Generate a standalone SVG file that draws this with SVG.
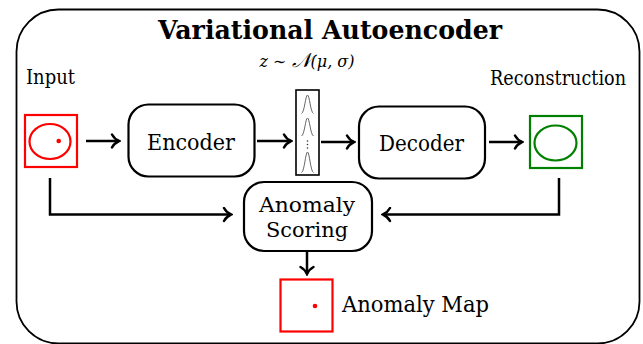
<svg xmlns="http://www.w3.org/2000/svg" width="643" height="344" viewBox="0 0 643 344" font-family="DejaVu Serif, Liberation Serif, serif">
<defs>
<style>
.box{fill:#fff;stroke:#000;stroke-width:2.2}
.conn{fill:none;stroke:#000;stroke-width:2.5}
.gauss{fill:none;stroke:#555;stroke-width:0.9}
</style>
<marker id="arr" markerUnits="userSpaceOnUse" orient="auto" viewBox="-9 -8 11 16" refX="0" refY="0" markerWidth="11" markerHeight="16">
<path d="M -7,-6.5 C -5,-2.8 -2,-0.9 0,0 C -2,0.9 -5,2.8 -7,6.5" fill="none" stroke="#000" stroke-width="2.5" stroke-linecap="round"/>
</marker>
</defs>
<rect x="16.5" y="9.5" width="623" height="334" rx="42" ry="42" fill="none" stroke="#000" stroke-width="1.8"/>
<text x="330" y="39" font-size="26" font-weight="bold" text-anchor="middle" textLength="344" lengthAdjust="spacingAndGlyphs">Variational Autoencoder</text>
<text x="307" y="67" font-size="16" text-anchor="middle" font-style="italic">z ∼ <tspan font-size="20">𝒩</tspan>(μ, σ)</text>
<text x="26" y="84" font-size="20" textLength="49" lengthAdjust="spacingAndGlyphs">Input</text>
<text x="490" y="85" font-size="20" textLength="136" lengthAdjust="spacingAndGlyphs">Reconstruction</text>

<g id="input">
<rect x="25" y="115" width="52" height="52" fill="#fff" stroke="#f00" stroke-width="2.2"/>
<ellipse cx="50" cy="141.5" rx="20.5" ry="17.5" fill="none" stroke="#f00" stroke-width="2.2"/>
<circle cx="58.7" cy="141" r="2.3" fill="#f00"/>
</g>
<g id="encoder">
<rect class="box" x="128.5" y="104.5" width="126" height="72" rx="20"/>
<text x="191" y="150" font-size="22" text-anchor="middle" textLength="88" lengthAdjust="spacingAndGlyphs">Encoder</text>
</g>
<g id="latent">
<rect x="296" y="90" width="23" height="85" fill="#fff" stroke="#000" stroke-width="1.6"/>
<path class="gauss" d="M 301.5,113.5 C 304.5,112.5 305.5,95 307.5,95 C 309.5,95 310.5,112.5 313.5,113.5"/>
<path class="gauss" d="M 301.5,136 C 304.5,135 305.5,118 307.5,118 C 309.5,118 310.5,135 313.5,136"/>
<circle cx="307.5" cy="141" r="0.8" fill="#333"/>
<circle cx="307.5" cy="144.5" r="0.8" fill="#333"/>
<circle cx="307.5" cy="148" r="0.8" fill="#333"/>
<path class="gauss" d="M 301.5,172.5 C 304.5,171.5 305.5,152 307.5,152 C 309.5,152 310.5,171.5 313.5,172.5"/>
</g>
<g id="decoder">
<rect class="box" x="359" y="106.5" width="126" height="72" rx="20"/>
<text x="421.5" y="151" font-size="22" text-anchor="middle" textLength="85" lengthAdjust="spacingAndGlyphs">Decoder</text>
</g>
<g id="reconstruction">
<rect x="530" y="116" width="52" height="52" fill="#fff" stroke="#008000" stroke-width="2.2"/>
<ellipse cx="555.5" cy="143" rx="21" ry="17.5" fill="none" stroke="#008000" stroke-width="2.2"/>
</g>
<g id="scoring">
<rect class="box" x="244" y="182" width="128" height="69" rx="20"/>
<text x="307" y="212" font-size="21" text-anchor="middle" textLength="96" lengthAdjust="spacingAndGlyphs">Anomaly</text>
<text x="307" y="237" font-size="21" text-anchor="middle" textLength="82" lengthAdjust="spacingAndGlyphs">Scoring</text>
</g>
<g id="anomaly-map">
<rect x="280.5" y="279.5" width="52" height="52" fill="#fff" stroke="#f00" stroke-width="2.2"/>
<circle cx="315" cy="306" r="2.3" fill="#f00"/>
<text x="342" y="312" font-size="22" textLength="147" lengthAdjust="spacingAndGlyphs">Anomaly Map</text>
</g>
<g id="connectors">
<path class="conn" d="M 86,141 H 119" marker-end="url(#arr)"/>
<path class="conn" d="M 257,141 H 291" marker-end="url(#arr)"/>
<path class="conn" d="M 321,142 H 354" marker-end="url(#arr)"/>
<path class="conn" d="M 489,142 H 522" marker-end="url(#arr)"/>
<path class="conn" d="M 50,178 V 214.5 H 231" marker-end="url(#arr)"/>
<path class="conn" d="M 559,178 V 214.5 H 383" marker-end="url(#arr)"/>
<path class="conn" d="M 307,251 V 274" marker-end="url(#arr)"/>
</g>
</svg>
